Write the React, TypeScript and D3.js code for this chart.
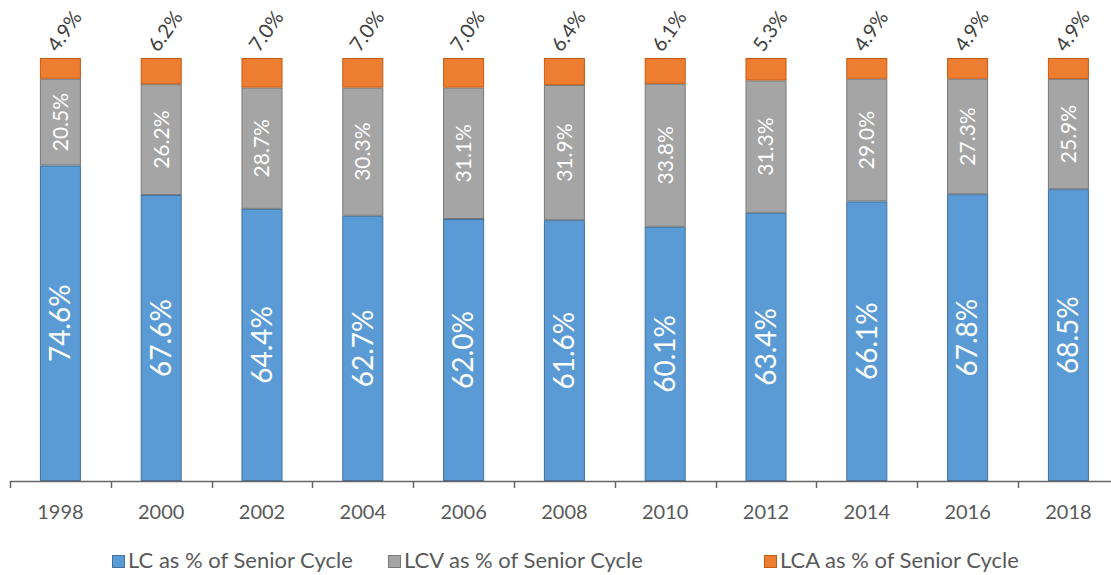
import React from "react";
import * as d3 from "d3";

const years = ["1998", "2000", "2002", "2004", "2006", "2008", "2010", "2012", "2014", "2016", "2018"];
const lcValues = [74.6, 67.6, 64.4, 62.7, 62.0, 61.6, 60.1, 63.4, 66.1, 67.8, 68.5];
const lcvValues = [20.5, 26.2, 28.7, 30.3, 31.1, 31.9, 33.8, 31.3, 29.0, 27.3, 25.9];
const lcaValues = [4.9, 6.2, 7.0, 7.0, 7.0, 6.4, 6.1, 5.3, 4.9, 4.9, 4.9];
const seriesNames = ["LC as % of Senior Cycle", "LCV as % of Senior Cycle", "LCA as % of Senior Cycle"];

const W = 1111;
const H = 575;
const FONT = "Lato, 'Open Sans', sans-serif";

export default function App() {
  const x = d3
    .scaleBand<string>()
    .domain(years)
    .range([10, 10 + 11 * 100.8])
    .paddingInner(0.593)
    .paddingOuter(0.593 / 2);
  const y = d3.scaleLinear().domain([0, 1]).range([481, 58]);

  const rows = years.map((yr, i) => ({ year: yr, lc: lcValues[i], lcv: lcvValues[i], lca: lcaValues[i] }));
  const stack = d3.stack<any>().keys(["lc", "lcv", "lca"]).offset(d3.stackOffsetExpand);
  const layers = stack(rows);
  const fills = ["#5B9BD5", "#A5A5A5", "#ED7D31"];
  const strokes = ["#41719C", "#787878", "#C55A11"];
  const bw = x.bandwidth();
  const step = x.step();

  const legendX = [112, 388, 764];

  return (
    <svg width={W} height={H} style={{ position: "absolute", left: 0, top: 0, background: "#fff" }} fontFamily={FONT}>
      {layers.map((layer, li) => (
        <g key={li}>
          {layer.map((d, i) => {
            const x0 = x(years[i]) as number;
            const yTop = y(d[1]);
            const yBot = y(d[0]);
            return (
              <rect
                key={i}
                x={x0 + 0.5}
                y={yTop + 0.5}
                width={bw - 1}
                height={Math.max(0, yBot - yTop - 1)}
                fill={fills[li]}
                stroke={strokes[li]}
                strokeWidth={1}
              />
            );
          })}
        </g>
      ))}
      {/* LC labels */}
      {layers[0].map((d, i) => {
        const cx = (x(years[i]) as number) + bw / 2;
        const cy = (y(d[0]) + y(d[1])) / 2;
        return (
          <text
            key={"lc" + i}
            transform={`translate(${cx},${cy}) rotate(-90)`}
            textAnchor="middle"
            dy="0.35em"
            fill="#fff"
            fontSize={28}
          >
            {lcValues[i].toFixed(1)}%
          </text>
        );
      })}
      {/* LCV labels */}
      {layers[1].map((d, i) => {
        const cx = (x(years[i]) as number) + bw / 2;
        const cy = (y(d[0]) + y(d[1])) / 2;
        return (
          <text
            key={"lcv" + i}
            transform={`translate(${cx},${cy}) rotate(-90)`}
            textAnchor="middle"
            dy="0.35em"
            fill="#fff"
            fontSize={21}
          >
            {lcvValues[i].toFixed(1)}%
          </text>
        );
      })}
      {/* LCA labels */}
      {layers[2].map((d, i) => {
        const cx = (x(years[i]) as number) + bw / 2;
        const top = y(d[1]);
        return (
          <text
            key={"lca" + i}
            transform={`translate(${cx + 4},${top - 27}) rotate(-55)`}
            textAnchor="middle"
            dy="0.35em"
            fill="#404040"
            fontSize={20}
          >
            {lcaValues[i].toFixed(1)}%
          </text>
        );
      })}
      {/* axis */}
      <line x1={10} x2={W} y1={481.5} y2={481.5} stroke="#666" strokeWidth={1.5} />
      {years.map((yr, i) => {
        const bx = Math.round((x(yr) as number) - (step - bw) / 2) + 0.5;
        return <line key={"t" + i} x1={bx} x2={bx} y1={481} y2={488} stroke="#666" strokeWidth={1.5} />;
      })}
      {years.map((yr, i) => (
        <text
          key={"xl" + i}
          x={(x(yr) as number) + bw / 2}
          y={519}
          textAnchor="middle"
          fill="#595959"
          fontSize={20}
        >
          {yr}
        </text>
      ))}
      {/* legend */}
      {seriesNames.map((nm, i) => (
        <g key={"lg" + i}>
          <rect x={legendX[i] + 0.5} y={555.5} width={12} height={12} fill={fills[i]} stroke={strokes[i]} strokeWidth={1} />
          <text x={legendX[i] + 16} y={568} fill="#595959" fontSize={22}>
            {nm}
          </text>
        </g>
      ))}
    </svg>
  );
}
